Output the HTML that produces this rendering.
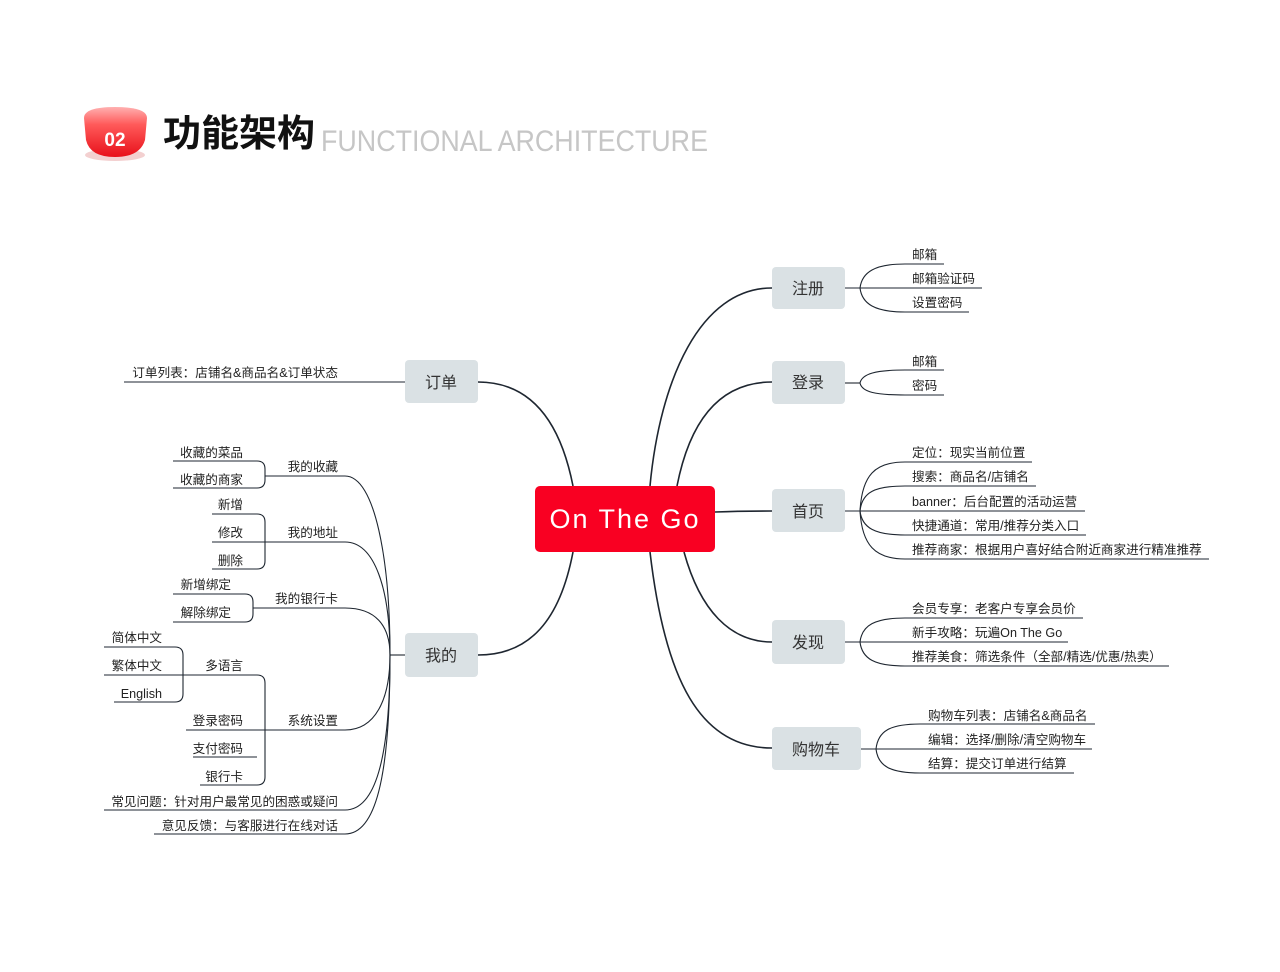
<!DOCTYPE html>
<html><head><meta charset="utf-8"><style>
html,body{margin:0;padding:0;background:#fff;}
svg{display:block;}
text{font-family:"Liberation Sans","Noto Sans CJK SC",sans-serif;}
</style></head><body>
<svg width="1280" height="972" viewBox="0 0 1280 972" xmlns="http://www.w3.org/2000/svg">
<defs>
<linearGradient id="bg" x1="0" y1="0" x2="0" y2="1">
<stop offset="0" stop-color="#ffb0b0"/><stop offset="0.35" stop-color="#ff5a5a"/><stop offset="1" stop-color="#e8101a"/>
</linearGradient>
</defs>
<!-- Title -->
<ellipse cx="115" cy="155" rx="30" ry="6" fill="#f3d0d0"/>
<path d="M84 118 Q84 107 115 107 Q147 107 147 118 L145 140 Q140 157 115 157 Q90 157 86 140 Z" fill="url(#bg)"/>
<text x="115" y="146" font-size="19" font-weight="bold" fill="#fff" text-anchor="middle">02</text>
<text x="163" y="146" font-size="37" font-weight="bold" fill="#111" textLength="152" lengthAdjust="spacingAndGlyphs">功能架构</text>
<text x="321" y="151" font-size="30" fill="#c6c6c6" textLength="387" lengthAdjust="spacingAndGlyphs">FUNCTIONAL ARCHITECTURE</text>

<g fill="none" stroke="#1e2630" stroke-width="1.6">
<path d="M573 486 C560 420 530 382 478 382"/>
<path d="M573 552 C560 620 530 655 478 655"/>
<path d="M650 486 C660 380 700 288 772 288"/>
<path d="M677 486 C690 420 720 382 772 382"/>
<path d="M715 512 C740 511 750 511 772 511"/>
<path d="M684 552 C700 610 730 642 772 642"/>
<path d="M650 552 C665 680 700 748 772 748"/>
</g>
<g fill="none" stroke="#1e2630" stroke-width="1.1">
<path d="M845 288 H982"/>
<path d="M860 288 C862 272 875 264 905 264 H944"/>
<path d="M860 288 C862 304 875 312 905 312 H969"/>
<path d="M845 383 H860"/>
<path d="M860 383 C862 374 875 370 905 370 H944"/>
<path d="M860 383 C862 392 875 395 905 395 H944"/>
<path d="M845 511 H1085"/>
<path d="M860 511 C862 475 875 462 905 462 H1032"/>
<path d="M860 511 C862 492 875 486 905 486 H1036"/>
<path d="M860 511 C862 528 875 535 905 535 H1086"/>
<path d="M860 511 C862 545 875 559 905 559 H1209"/>
<path d="M845 642 H1068"/>
<path d="M860 642 C862 625 875 618 905 618 H1083"/>
<path d="M860 642 C862 659 875 666 905 666 H1169"/>
<path d="M861 749 H1092"/>
<path d="M876 749 C878 731 890 724 920 724 H1095"/>
<path d="M876 749 C878 766 890 773 920 773 H1074"/>
<path d="M405 382 H124"/>
<path d="M405 655 H390"/>
<path d="M390 655 C390 560 375 476 345 476 H265"/>
<path d="M390 655 C390 590 375 542 345 542 H265"/>
<path d="M390 655 C390 625 375 608 345 608 H253"/>
<path d="M390 655 C390 700 375 730 345 730 H186"/>
<path d="M390 655 C390 760 375 810 345 810 H104"/>
<path d="M390 655 C390 780 375 834 345 834 H154"/>
<path d="M173 461 H257 Q265 461 265 469 V480 Q265 488 257 488 H173"/>
<path d="M212 514 H257 Q265 514 265 522 V561 Q265 569 257 569 H212 M212 542 H265"/>
<path d="M173 594 H245 Q253 594 253 602 V614 Q253 622 245 622 H173"/>
<path d="M104 675 H257 Q265 675 265 683 V777 Q265 785 257 785 H200 M193 757 H257"/>
<path d="M104 647 H175 Q183 647 183 655 V694 Q183 702 175 702 H114"/>
</g>

<g fill="#dae1e4">
<rect x="772" y="267" width="73" height="42" rx="4"/>
<rect x="772" y="361" width="73" height="43" rx="4"/>
<rect x="772" y="489" width="73" height="43" rx="4"/>
<rect x="772" y="620" width="73" height="44" rx="4"/>
<rect x="772" y="727" width="89" height="43" rx="4"/>
<rect x="405" y="360" width="73" height="43" rx="4"/>
<rect x="405" y="633" width="73" height="44" rx="4"/>
</g>
<rect x="535" y="486" width="180" height="66" rx="5" fill="#f90022"/>
<text x="625" y="528" font-size="27" fill="#fff" text-anchor="middle" letter-spacing="2">On The Go</text>

<g font-size="16" fill="#333" text-anchor="middle">
<text x="808" y="294">注册</text>
<text x="808" y="388">登录</text>
<text x="808" y="517">首页</text>
<text x="808" y="648">发现</text>
<text x="816" y="755">购物车</text>
<text x="441" y="388">订单</text>
<text x="441" y="661">我的</text>
</g>

<g font-size="12.6" fill="#222">
<text x="912" y="259">邮箱</text>
<text x="912" y="283">邮箱验证码</text>
<text x="912" y="307">设置密码</text>
<text x="912" y="366">邮箱</text>
<text x="912" y="390">密码</text>
<text x="912" y="457">定位：现实当前位置</text>
<text x="912" y="481">搜索：商品名/店铺名</text>
<text x="912" y="506">banner：后台配置的活动运营</text>
<text x="912" y="530">快捷通道：常用/推荐分类入口</text>
<text x="912" y="554">推荐商家：根据用户喜好结合附近商家进行精准推荐</text>
<text x="912" y="613">会员专享：老客户专享会员价</text>
<text x="912" y="637">新手攻略：玩遍On The Go</text>
<text x="912" y="661">推荐美食：筛选条件（全部/精选/优惠/热卖）</text>
<text x="928" y="720">购物车列表：店铺名&amp;商品名</text>
<text x="928" y="744">编辑：选择/删除/清空购物车</text>
<text x="928" y="768">结算：提交订单进行结算</text>
</g>
<g font-size="12.6" fill="#222" text-anchor="end">
<text x="338" y="377">订单列表：店铺名&amp;商品名&amp;订单状态</text>
<text x="338" y="471">我的收藏</text>
<text x="338" y="537">我的地址</text>
<text x="338" y="603">我的银行卡</text>
<text x="338" y="725">系统设置</text>
<text x="338" y="806">常见问题：针对用户最常见的困惑或疑问</text>
<text x="338" y="830">意见反馈：与客服进行在线对话</text>
<text x="243" y="457">收藏的菜品</text>
<text x="243" y="484">收藏的商家</text>
<text x="243" y="509">新增</text>
<text x="243" y="537">修改</text>
<text x="243" y="565">删除</text>
<text x="231" y="589">新增绑定</text>
<text x="231" y="617">解除绑定</text>
<text x="243" y="670">多语言</text>
<text x="243" y="725">登录密码</text>
<text x="243" y="753">支付密码</text>
<text x="243" y="781">银行卡</text>
<text x="162" y="642">简体中文</text>
<text x="162" y="670">繁体中文</text>
<text x="162" y="698">English</text>
</g>
</svg>
</body></html>
